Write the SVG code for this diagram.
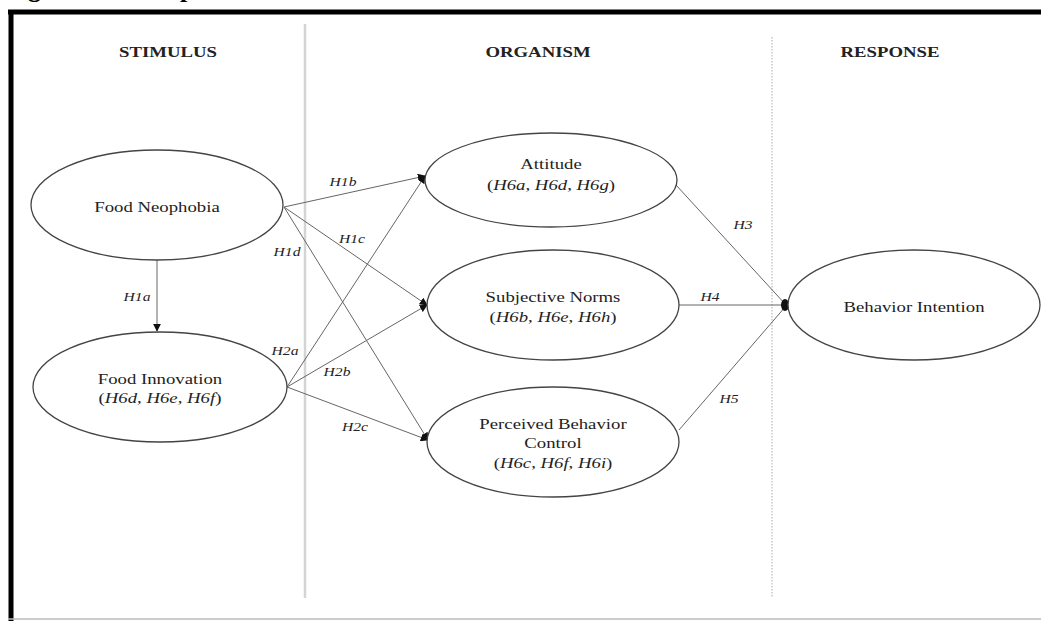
<svg xmlns="http://www.w3.org/2000/svg" width="1041" height="621" viewBox="0 0 1041 621">
<defs>
<style>
.node{fill:#fff;stroke:#444;stroke-width:1.3}
.t{font-family:"Liberation Serif",serif;font-size:15px;fill:#222;text-anchor:middle}
.h{font-family:"Liberation Serif",serif;font-size:15px;font-weight:bold;fill:#222;text-anchor:middle}
.lab{font-family:"Liberation Serif",serif;font-size:12.5px;font-style:italic;fill:#222;text-anchor:middle}
.i{font-style:italic}
.c{stroke:#666;stroke-width:1;fill:none}
</style>
<marker id="arr" viewBox="0 0 10 10" refX="9" refY="5" markerWidth="8" markerHeight="8" markerUnits="userSpaceOnUse" orient="auto">
<path d="M0,0 L10,5 L0,10 z" fill="#111"/>
</marker>
</defs>
<rect width="1041" height="621" fill="#fff"/>
<text x="5" y="-3" font-family="Liberation Serif,serif" font-size="26" font-weight="bold" fill="#000">Figure 1. Conceptual Framework</text>
<g id="frame">
<line x1="8" y1="12" x2="1041" y2="12" stroke="#000" stroke-width="5"/>
<line x1="11" y1="10" x2="11" y2="621" stroke="#000" stroke-width="5"/>
<line x1="8" y1="619" x2="1041" y2="619" stroke="#bbb" stroke-width="1.5"/>
<line x1="305" y1="24" x2="305" y2="598" stroke="#d4d4d4" stroke-width="2.5"/>
<line x1="772" y1="37" x2="772" y2="598" stroke="#aaa" stroke-width="1" stroke-dasharray="1.5,1.5"/>
</g>
<g id="headers">
<text class="h" transform="translate(168,57) scale(1.25,1)">STIMULUS</text>
<text class="h" transform="translate(538,57) scale(1.25,1)">ORGANISM</text>
<text class="h" transform="translate(890,57) scale(1.25,1)">RESPONSE</text>
</g>
<g id="connectors">
<line class="c" x1="157" y1="260" x2="157" y2="331" marker-end="url(#arr)"/>
<line class="c" x1="284" y1="207" x2="425" y2="176" marker-end="url(#arr)"/>
<line class="c" x1="284" y1="207" x2="427" y2="305" marker-end="url(#arr)"/>
<line class="c" x1="284" y1="207" x2="428" y2="440" marker-end="url(#arr)"/>
<line class="c" x1="287" y1="387" x2="425" y2="176" marker-end="url(#arr)"/>
<line class="c" x1="287" y1="387" x2="427" y2="305" marker-end="url(#arr)"/>
<line class="c" x1="287" y1="387" x2="428" y2="440" marker-end="url(#arr)"/>
<line class="c" x1="676" y1="185" x2="786" y2="305"/>
<line class="c" x1="679" y1="305" x2="786" y2="305"/>
<line class="c" x1="679" y1="430" x2="786" y2="306"/>
<ellipse cx="785" cy="305" rx="4" ry="6" fill="#111"/>
<text class="lab" transform="translate(137,301) scale(1.25,1)">H1a</text>
<text class="lab" transform="translate(343,186) scale(1.25,1)">H1b</text>
<text class="lab" transform="translate(352,243) scale(1.25,1)">H1c</text>
<text class="lab" transform="translate(287,256) scale(1.25,1)">H1d</text>
<text class="lab" transform="translate(285,355) scale(1.25,1)">H2a</text>
<text class="lab" transform="translate(337,376) scale(1.25,1)">H2b</text>
<text class="lab" transform="translate(355,431) scale(1.25,1)">H2c</text>
<text class="lab" transform="translate(743,229) scale(1.25,1)">H3</text>
<text class="lab" transform="translate(710,301) scale(1.25,1)">H4</text>
<text class="lab" transform="translate(729,403) scale(1.25,1)">H5</text>
</g>
<g id="food-neophobia">
<ellipse class="node" cx="157" cy="205" rx="126" ry="55"/>
<text class="t" transform="translate(157,212) scale(1.25,1)">Food Neophobia</text>
</g>
<g id="food-innovation">
<ellipse class="node" cx="160" cy="387" rx="127" ry="55"/>
<text class="t" transform="translate(160,384) scale(1.25,1)">Food Innovation</text>
<text class="t" transform="translate(160,403) scale(1.25,1)">(<tspan class="i">H6d</tspan>, <tspan class="i">H6e</tspan>, <tspan class="i">H6f</tspan>)</text>
</g>
<g id="attitude">
<ellipse class="node" cx="551" cy="180" rx="126" ry="47"/>
<text class="t" transform="translate(551,169) scale(1.25,1)">Attitude</text>
<text class="t" transform="translate(551,190) scale(1.25,1)">(<tspan class="i">H6a</tspan>, <tspan class="i">H6d</tspan>, <tspan class="i">H6g</tspan>)</text>
</g>
<g id="subjective-norms">
<ellipse class="node" cx="553" cy="305" rx="126" ry="55"/>
<text class="t" transform="translate(553,302) scale(1.25,1)">Subjective Norms</text>
<text class="t" transform="translate(553,322) scale(1.25,1)">(<tspan class="i">H6b</tspan>, <tspan class="i">H6e</tspan>, <tspan class="i">H6h</tspan>)</text>
</g>
<g id="perceived-behavior-control">
<ellipse class="node" cx="553" cy="442" rx="126" ry="55"/>
<text class="t" transform="translate(553,429) scale(1.25,1)">Perceived Behavior</text>
<text class="t" transform="translate(553,448) scale(1.25,1)">Control</text>
<text class="t" transform="translate(553,468) scale(1.25,1)">(<tspan class="i">H6c</tspan>, <tspan class="i">H6f</tspan>, <tspan class="i">H6i</tspan>)</text>
</g>
<g id="behavior-intention">
<ellipse class="node" cx="914" cy="305" rx="126" ry="55"/>
<text class="t" transform="translate(914,312) scale(1.25,1)">Behavior Intention</text>
</g>
</svg>
